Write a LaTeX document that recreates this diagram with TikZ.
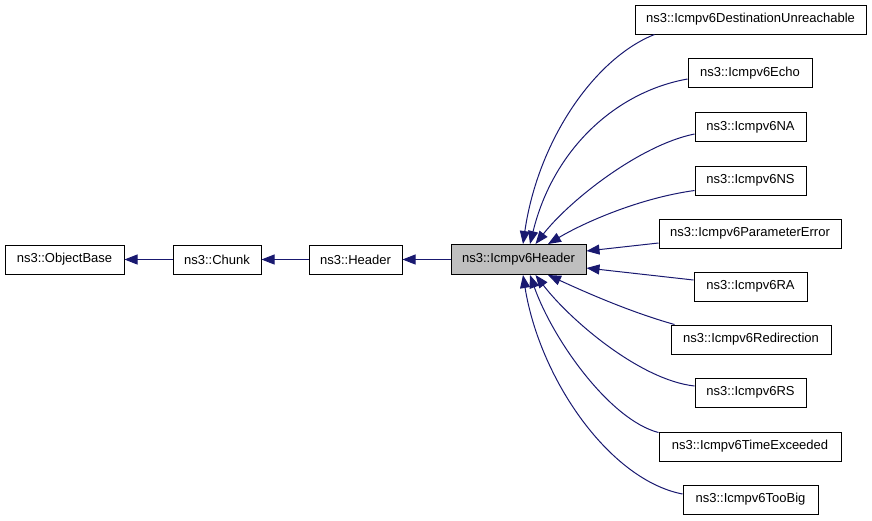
\documentclass[tikz,border=0pt]{standalone}
\usepackage{fontspec}
\setmainfont{Liberation Sans}
\usetikzlibrary{arrows.meta}
\definecolor{edgeblue}{RGB}{25,25,112}
\definecolor{hdrgray}{RGB}{191,191,191}
\tikzset{
  box/.style={draw=black, line width=1pt, fill=white, minimum height=29pt, inner sep=0pt,
    font=\fontsize{13}{15}\selectfont, anchor=center},
  edge/.style={draw=edgeblue, line width=1pt, -{Triangle[length=13pt,width=10pt]}}
}
\begin{document}
\begin{tikzpicture}[x=1pt,y=-1pt]
\useasboundingbox (0,0) rectangle (872,520);
% left chain
\node[box, minimum width=119pt] (ob) at (64.5,259.5) {ns3::ObjectBase};
\node[box, minimum width=88pt] (chunk) at (217,259.5) {ns3::Chunk};
\node[box, minimum width=93pt] (header) at (355.5,259.5) {ns3::Header};
\node[box, minimum width=135pt, minimum height=30pt, fill=hdrgray] (ih) at (518.5,259.5) {ns3::Icmpv6Header};
% right column
\node[box, minimum width=231pt] (du) at (750.5,19.5) {ns3::Icmpv6DestinationUnreachable};
\node[box, minimum width=124pt] (echo) at (750,73) {ns3::Icmpv6Echo};
\node[box, minimum width=111pt] (na) at (750.5,127) {ns3::Icmpv6NA};
\node[box, minimum width=111pt] (ns) at (750.5,180.5) {ns3::Icmpv6NS};
\node[box, minimum width=182pt] (pe) at (750,233.5) {ns3::Icmpv6ParameterError};
\node[box, minimum width=113pt] (ra) at (750.5,286.5) {ns3::Icmpv6RA};
\node[box, minimum width=160pt] (redir) at (751,339.5) {ns3::Icmpv6Redirection};
\node[box, minimum width=111pt] (rs) at (750.5,392.5) {ns3::Icmpv6RS};
\node[box, minimum width=182pt] (te) at (750,446.5) {ns3::Icmpv6TimeExceeded};
\node[box, minimum width=135pt] (tb) at (750.5,499.5) {ns3::Icmpv6TooBig};
% left edges
\draw[edge] (ih.west) -- (header.east);
\draw[edge] (header.west) -- (chunk.east);
\draw[edge] (chunk.west) -- (ob.east);
% upper edges
\draw[edge] ([xshift=20pt]du.south west) .. controls (595,58) and (538,140) .. ([xshift=4.5pt]ih.north);
\draw[edge] ([yshift=-6pt]echo.west) .. controls (615,92) and (553,150) .. ([xshift=11.5pt]ih.north);
\draw[edge] ([yshift=-7pt]na.west) .. controls (640,145) and (570,200) .. ([xshift=17pt]ih.north);
\draw[edge] ([yshift=-10pt]ns.west) .. controls (640,198) and (585,222) .. ([xshift=29.5pt]ih.north);
\draw[edge] ([yshift=-9.5pt]pe.west) -- ([yshift=8.5pt]ih.east);
% lower edges
\draw[edge] ([yshift=6.5pt]ra.west) -- ([yshift=-8.5pt]ih.east);
\draw[edge] ([xshift=4pt]redir.north west) .. controls (630,312) and (585,292) .. ([xshift=29.5pt]ih.south);
\draw[edge] ([yshift=6.5pt]rs.west) .. controls (640,380) and (570,320) .. ([xshift=17pt]ih.south);
\draw[edge] ([yshift=14pt]te.west) .. controls (610,420) and (553,340) .. ([xshift=11.5pt]ih.south);
\draw[edge] ([yshift=5.5pt]tb.west) .. controls (610,480) and (540,380) .. ([xshift=4.5pt]ih.south);
\end{tikzpicture}
\end{document}
